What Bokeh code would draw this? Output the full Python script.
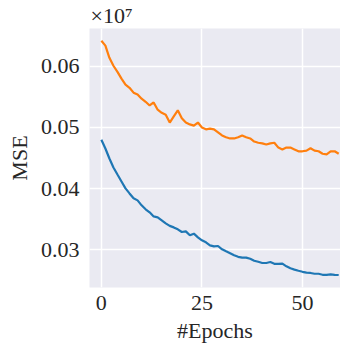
from bokeh.plotting import figure
from bokeh.models import FixedTicker, PrintfTickFormatter, Title, Range1d
from bokeh.embed import file_html
from bokeh.resources import INLINE

# MSE values in units of 1e7, one per epoch (0..59)
epochs = list(range(60))
series_blue = [0.0480, 0.04655, 0.04492, 0.04345, 0.0423, 0.04116, 0.04002, 0.0392, 0.0384, 0.03806,
               0.03725, 0.03660, 0.03611, 0.03544, 0.03528, 0.03479, 0.03430, 0.03389, 0.03364, 0.03332,
               0.03288, 0.03299, 0.03234, 0.03261, 0.03201, 0.03152, 0.03119, 0.03070, 0.03054, 0.03059,
               0.03005, 0.02972, 0.02940, 0.02907, 0.02882, 0.02869, 0.02869, 0.02850, 0.02817, 0.02801,
               0.02781, 0.02781, 0.02797, 0.02768, 0.02768, 0.02771, 0.02727, 0.02694, 0.02673, 0.02654,
               0.02637, 0.02624, 0.02618, 0.02605, 0.02605, 0.02588, 0.02588, 0.02596, 0.02588, 0.02585]
series_orange = [0.0642, 0.0634, 0.0614, 0.0601, 0.0591, 0.0580, 0.0570, 0.0565, 0.0557, 0.0554,
                 0.0547, 0.0542, 0.0536, 0.0541, 0.0529, 0.0524, 0.0521, 0.0508, 0.0518, 0.0528,
                 0.0515, 0.0508, 0.0505, 0.0503, 0.0508, 0.0500, 0.0497, 0.0498, 0.0497, 0.0492,
                 0.0487, 0.0484, 0.0482, 0.0482, 0.0484, 0.0487, 0.0484, 0.0482, 0.0477, 0.0475,
                 0.0474, 0.0472, 0.0474, 0.0475, 0.0467, 0.0464, 0.0467, 0.0467, 0.0464, 0.0461,
                 0.0461, 0.0462, 0.0466, 0.0462, 0.0461, 0.0457, 0.0456, 0.0461, 0.0461, 0.0457]
x_ticks = [0, 25, 50]
y_ticks = [0.03, 0.04, 0.05, 0.06]
x_label = "#Epochs"
y_label = "MSE"
offset_text = "×10⁷"

FONT = "Liberation Serif"

p = figure(width=340, height=352, output_backend="svg", toolbar_location=None,
           x_range=Range1d(-2.95, 59.45), y_range=Range1d(0.0238, 0.0662),
           min_border_left=89, min_border_right=0, min_border_top=28, min_border_bottom=65)

p.background_fill_color = "#EAEAF2"
p.border_fill_color = "white"
p.outline_line_color = None

p.line(epochs, series_blue, line_color="#1f77b4", line_width=2.2)
p.line(epochs, series_orange, line_color="#ff7f0e", line_width=2.2)

p.xaxis.ticker = FixedTicker(ticks=x_ticks)
p.yaxis.ticker = FixedTicker(ticks=y_ticks)
p.yaxis.formatter = PrintfTickFormatter(format="%.2f")

for ax in (p.xaxis[0], p.yaxis[0]):
    ax.axis_line_color = None
    ax.major_tick_line_color = None
    ax.minor_tick_line_color = None
    ax.major_tick_out = 0
    ax.major_tick_in = 0
    ax.major_label_text_font = FONT
    ax.major_label_text_font_size = "22px"
    ax.major_label_text_color = "#262626"
    ax.axis_label_text_font = FONT
    ax.axis_label_text_font_size = "22px"
    ax.axis_label_text_font_style = "normal"
    ax.axis_label_text_color = "#262626"

p.xaxis.axis_label = x_label
p.yaxis.axis_label = y_label
p.xaxis.major_label_standoff = 8
p.yaxis.major_label_standoff = 10
p.xaxis.axis_label_standoff = 5
p.yaxis.axis_label_standoff = 6

p.xgrid.grid_line_color = "white"
p.ygrid.grid_line_color = "white"
p.xgrid.grid_line_width = 1.5
p.ygrid.grid_line_width = 1.5
p.xgrid.ticker = FixedTicker(ticks=x_ticks)
p.ygrid.ticker = FixedTicker(ticks=y_ticks)

p.add_layout(Title(text=offset_text, align="left", text_font=FONT, text_font_size="22px",
                   text_font_style="normal", text_color="#262626", standoff=1, offset=1), "above")

open("out.html", "w").write(file_html(p, INLINE))
